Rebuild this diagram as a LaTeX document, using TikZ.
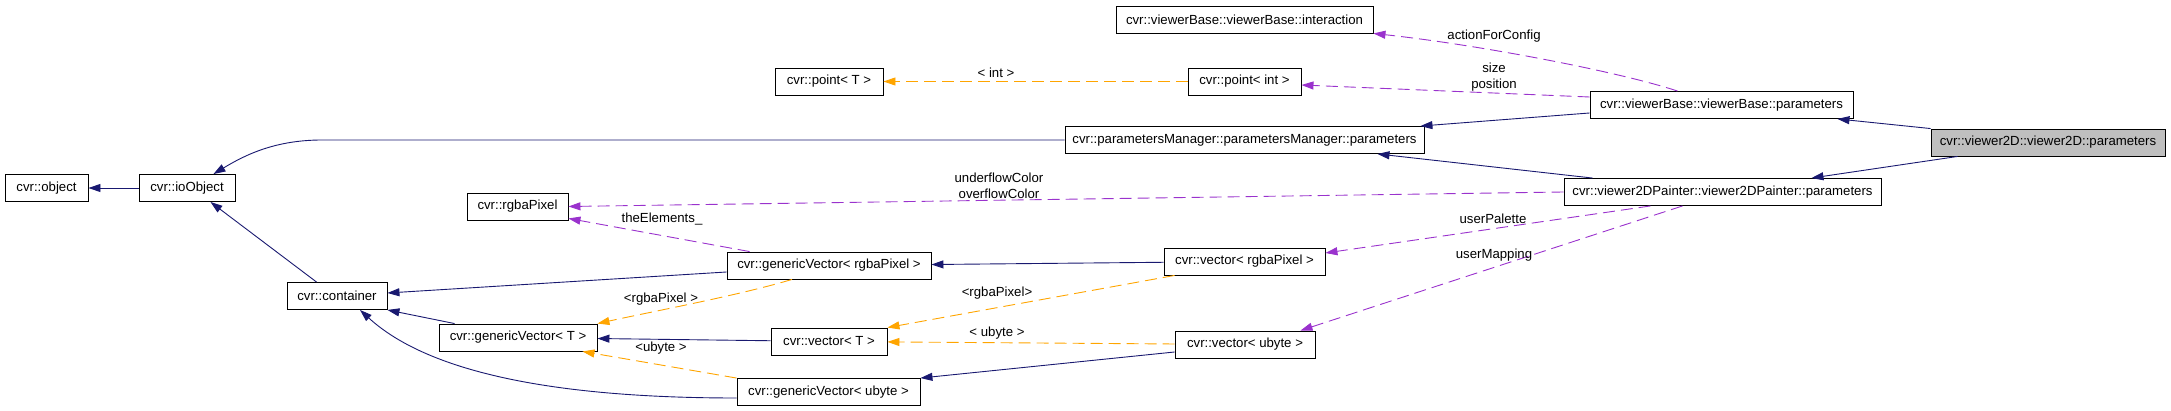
\documentclass[tikz,border=0pt]{standalone}
\usepackage{fontspec}
\setmainfont{Liberation Sans}
\usetikzlibrary{arrows.meta}
\definecolor{inhc}{HTML}{191970}
\definecolor{usec}{HTML}{9A32CD}
\definecolor{tplc}{HTML}{FFA500}
\tikzset{cls/.style={draw,line width=.9pt,minimum height=27pt,inner sep=0pt},
 cur/.style={cls,fill=black!25},
 inh/.style={draw=inhc,line width=.9pt,-{Triangle[length=12pt,width=8pt]}},
 use/.style={inh,draw=usec,dash pattern=on 12pt off 6pt},
 tpl/.style={inh,draw=tplc,dash pattern=on 12pt off 6pt},
 lbl/.style={align=center,inner sep=0pt},
 every node/.style={font=\fontsize{13.2}{16}\selectfont}}
\begin{document}
\begin{tikzpicture}[x=1pt,y=-1pt]
\useasboundingbox (0,0) rectangle (2171,411);
\node[cls,minimum width=83pt] (obj) at (46.5,188) {cvr::object};
\node[cls,minimum width=96pt] (ioobj) at (187,188) {cvr::ioObject};
\node[cls,minimum width=100pt] (cont) at (337,296) {cvr::container};
\node[cls,minimum width=101pt] (rgba) at (517.5,206.5) {cvr::rgbaPixel};
\node[cls,minimum width=204pt] (gvrgba) at (829,265.5) {cvr::genericVector< rgbaPixel >};
\node[cls,minimum width=158pt] (gvt) at (518,337.5) {cvr::genericVector< T >};
\node[cls,minimum width=116pt] (vt) at (829,341.5) {cvr::vector< T >};
\node[cls,minimum width=183pt] (gvub) at (828.5,392) {cvr::genericVector< ubyte >};
\node[cls,minimum width=161pt] (vrgba) at (1244.5,261.5) {cvr::vector< rgbaPixel >};
\node[cls,minimum width=140pt] (vub) at (1245,344.5) {cvr::vector< ubyte >};
\node[cls,minimum width=257pt] (inter) at (1244.5,19.5) {cvr::viewerBase::viewerBase::interaction};
\node[cls,minimum width=108pt] (pnt) at (829,81.5) {cvr::point< T >};
\node[cls,minimum width=113pt] (pint) at (1244.5,81.5) {cvr::point< int >};
\node[cls,minimum width=359pt] (pman) at (1244.5,140) {cvr::parametersManager::parametersManager::parameters};
\node[cls,minimum width=263pt] (vbpar) at (1721.5,105) {cvr::viewerBase::viewerBase::parameters};
\node[cur,minimum width=234pt] (v2d) at (2048,142.5) {cvr::viewer2D::viewer2D::parameters};
\node[cls,minimum width=317pt] (v2dp) at (1722.5,192) {cvr::viewer2DPainter::viewer2DPainter::parameters};
% inheritance
\draw[inh] (ioobj) -- (obj);
\draw[inh] ([xshift=30pt]cont.north west) -- ([xshift=-25pt]ioobj.south east);
\draw[inh] (pman.west) -- (322,140) .. controls (275,140) and (245,155) .. ([xshift=-22pt]ioobj.north east);
\draw[inh] ([yshift=-6.5pt]gvrgba.west) -- ([yshift=3pt]cont.east);
\draw[inh] ([xshift=16pt]gvt.north west) -- (cont.south east);
\draw[inh] ([yshift=-6pt]gvub.west) .. controls (560,398) and (430,374) .. ([xshift=23pt]cont.south);
\draw[inh] (vt) -- (gvt);
\draw[inh] (vrgba) -- (gvrgba);
\draw[inh] ([yshift=-7.5pt]vub.west) -- (gvub.north east);
\draw[inh] ([yshift=-8pt]vbpar.west) -- ([xshift=-4pt]pman.north east);
\draw[inh] ([xshift=29pt]v2dp.north west) -- ([xshift=-47pt]pman.south east);
\draw[inh] (v2d.north west) -- ([xshift=-16pt]vbpar.south east);
\draw[inh] ([xshift=27pt]v2d.south west) -- ([xshift=-70pt]v2dp.north east);
% members
\draw[use] ([xshift=-44pt]vbpar.north) .. controls (1620,72) and (1480,45) .. (inter.south east);
\draw[use] ([yshift=8pt]vbpar.west) -- ([yshift=-3.5pt]pint.east);
\draw[use] (v2dp.west) -- (rgba.east);
\draw[use] ([xshift=23pt]gvrgba.north west) -- ([yshift=2pt]rgba.south east);
\draw[use] ([xshift=-72pt]v2dp.south) -- ([yshift=8.5pt]vrgba.east);
\draw[use] ([xshift=-40pt]v2dp.south) -- ([xshift=-15pt]vub.north east);
% templates
\draw[tpl] (pint) -- (pnt);
\draw[tpl] ([xshift=-37pt]gvrgba.south) .. controls (740,295) and (660,310) .. (gvt.north east);
\draw[tpl] (gvub.north west) -- ([xshift=-15pt]gvt.south east);
\draw[tpl] ([xshift=11pt]vrgba.south west) -- (vt.north east);
\draw[tpl] (vub) -- (vt);
% labels
\node[lbl] (lact) at (1494,36) {actionForConfig};
\node[lbl] (lsize) at (1494,77) {size\\position};
\node[lbl] (lint) at (996,73) {< int >};
\node[lbl] (lcol) at (999,186) {underflowColor\\overflowColor};
\node[lbl] (lelem) at (662,219) {theElements\_};
\node[lbl] (lpal) at (1493,219) {userPalette};
\node[lbl] (lmap) at (1494,255) {userMapping};
\node[lbl] (lgvrgba) at (661,299) {<rgbaPixel >};
\node[lbl] (lgvub) at (661,348) {<ubyte >};
\node[lbl] (lvrgba) at (997,293) {<rgbaPixel>};
\node[lbl] (lvub) at (997,333) {< ubyte >};
\end{tikzpicture}
\end{document}
